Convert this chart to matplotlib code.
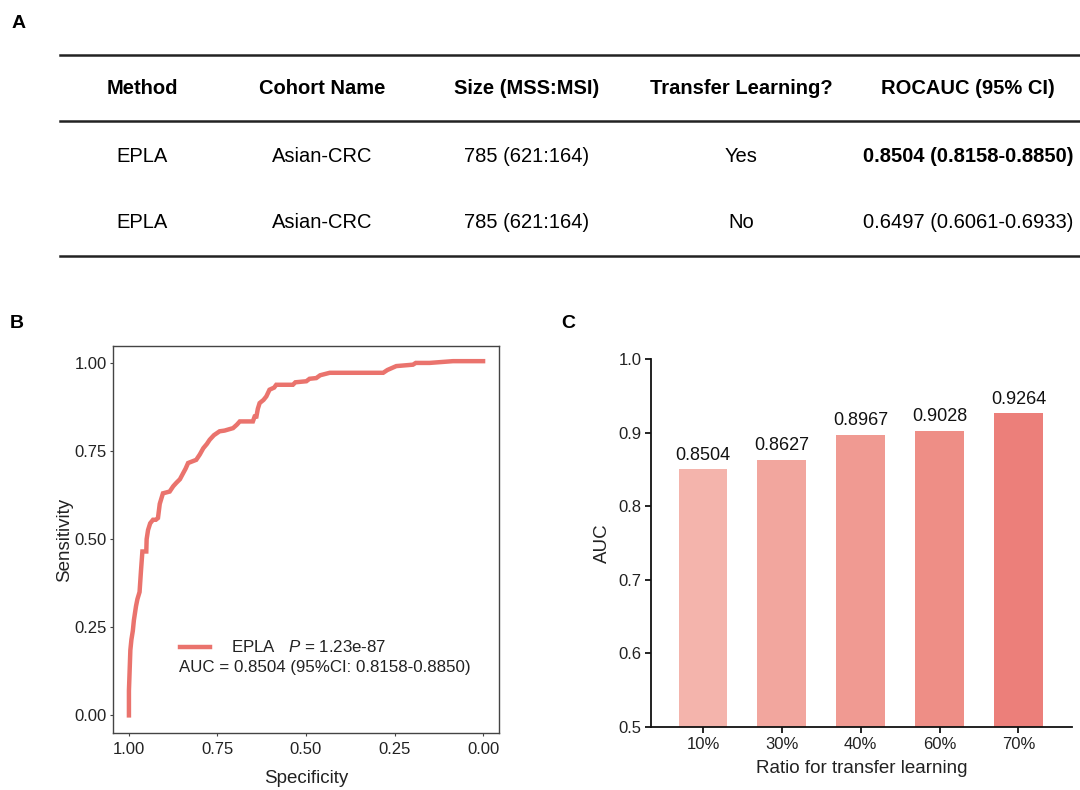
import numpy as np
import matplotlib
matplotlib.use("Agg")
import matplotlib.pyplot as plt
from matplotlib.lines import Line2D

plt.rcParams['font.family'] = ['Liberation Sans', 'DejaVu Sans']
plt.rcParams['mathtext.fontset'] = 'custom'
plt.rcParams['mathtext.rm'] = 'Liberation Sans'
plt.rcParams['mathtext.it'] = 'Liberation Sans:italic'

# table (panel A)
tableHeader = ['Method', 'Cohort Name', 'Size (MSS:MSI)', 'Transfer Learning?', 'ROCAUC (95% CI)']
tableRows = [
    ['EPLA', 'Asian-CRC', '785 (621:164)', 'Yes', '0.8504 (0.8158-0.8850)'],
    ['EPLA', 'Asian-CRC', '785 (621:164)', 'No', '0.6497 (0.6061-0.6933)'],
]
boldCells = [(0, 4)]

# ROC curve (panel B)
specificity = [1.000, 1.000, 0.996, 0.993, 0.989, 0.986, 0.980, 0.976, 0.970, 0.968,
               0.966, 0.962, 0.951, 0.950, 0.946, 0.940, 0.932, 0.924, 0.918, 0.913,
               0.904, 0.885, 0.875, 0.866, 0.856, 0.847, 0.840, 0.833, 0.810, 0.800,
               0.790, 0.780, 0.772, 0.760, 0.744, 0.730, 0.706, 0.695, 0.687, 0.650,
               0.645, 0.640, 0.636, 0.631, 0.620, 0.612, 0.603, 0.590, 0.584, 0.537,
               0.530, 0.499, 0.490, 0.471, 0.460, 0.433, 0.282, 0.270, 0.245, 0.198,
               0.190, 0.151, 0.085, 0.000]
sensitivity = [0.000, 0.070, 0.185, 0.215, 0.240, 0.270, 0.310, 0.330, 0.350, 0.380,
               0.410, 0.465, 0.465, 0.500, 0.526, 0.545, 0.555, 0.555, 0.560, 0.600,
               0.630, 0.635, 0.650, 0.660, 0.670, 0.687, 0.700, 0.716, 0.725, 0.740,
               0.758, 0.770, 0.782, 0.795, 0.806, 0.808, 0.815, 0.825, 0.834, 0.834,
               0.848, 0.848, 0.870, 0.886, 0.895, 0.905, 0.924, 0.930, 0.938, 0.938,
               0.945, 0.948, 0.955, 0.957, 0.965, 0.972, 0.972, 0.980, 0.991, 0.995,
               1.000, 1.000, 1.005, 1.005]
rocLabel = 'EPLA   $P$ = 1.23e-87'
aucLabel = 'AUC = 0.8504 (95%CI: 0.8158-0.8850)'

# bar chart (panel C)
ratios = ['10%', '30%', '40%', '60%', '70%']
aucValues = [0.8504, 0.8627, 0.8967, 0.9028, 0.9264]
barColors = ['#F4B4AC', '#F2A69E', '#F09A92', '#EE8E86', '#EC7F7A']

W, H = 1080, 790
fig = plt.figure(figsize=(W / 100, H / 100), dpi=100)

# ---- panel A: table drawn in a pixel-coordinate overlay
axA = fig.add_axes([0, 0, 1, 1])
axA.set_xlim(0, W)
axA.set_ylim(H, 0)
axA.axis('off')
colX = [142, 322, 527, 741, 968]
rowY = [88, 156, 222]
for yy in [55, 121, 256]:
    axA.add_line(Line2D([60, W], [yy, yy], color='#222222', lw=1.8))
for x, name in zip(colX, tableHeader):
    axA.text(x, rowY[0], name, ha='center', va='center', fontsize=14.5, fontweight='bold')
for r, row in enumerate(tableRows):
    for c, cell in enumerate(row):
        fw = 'bold' if (r, c) in boldCells else 'normal'
        axA.text(colX[c], rowY[r + 1], cell, ha='center', va='center', fontsize=14.5, fontweight=fw)
axA.text(19, 23, 'A', ha='center', va='center', fontsize=14, fontweight='bold')
axA.text(17, 323, 'B', ha='center', va='center', fontsize=14, fontweight='bold')
axA.text(568, 323, 'C', ha='center', va='center', fontsize=14, fontweight='bold')

# ---- panel B: ROC curve
axB = fig.add_axes([113 / W, 1 - 733 / H, 386 / W, 387 / H])
rocColor = '#EA736D'
axB.plot(specificity, sensitivity, color=rocColor, lw=3.2, solid_joinstyle='miter')
axB.set_xlim(1.045, -0.045)
axB.set_ylim(-0.05, 1.048)
axB.set_xticks([1.0, 0.75, 0.5, 0.25, 0.0])
axB.set_xticklabels(['1.00', '0.75', '0.50', '0.25', '0.00'])
axB.set_yticks([0.0, 0.25, 0.5, 0.75, 1.0])
axB.set_yticklabels(['0.00', '0.25', '0.50', '0.75', '1.00'])
for s in axB.spines.values():
    s.set_color('#444444')
    s.set_linewidth(1.0)
axB.tick_params(length=2.5, width=0.8, color='#444444', labelsize=12, labelcolor='#222222', pad=2)
axB.tick_params(axis='x', pad=4)
axB.set_xlabel('Specificity', fontsize=13.5, color='#222222', labelpad=9)
axB.set_ylabel('Sensitivity', fontsize=13.5, color='#222222', labelpad=1)
axB.add_line(Line2D([0.174, 0.251], [0.222, 0.222], transform=axB.transAxes, color=rocColor, lw=3.2))
axB.text(0.305, 0.222, rocLabel, transform=axB.transAxes, ha='left', va='center', fontsize=12.2, color='#222222')
axB.text(0.172, 0.168, aucLabel, transform=axB.transAxes, ha='left', va='center', fontsize=12.2, color='#222222')

# ---- panel C: AUC by transfer ratio
axC = fig.add_axes([651 / W, 1 - 727 / H, 421 / W, 368 / H])
xpos = np.arange(len(ratios))
bars = axC.bar(xpos, aucValues, width=0.62, color=barColors)
for b, v in zip(bars, aucValues):
    axC.annotate('%.4f' % v, (b.get_x() + b.get_width() / 2, v), xytext=(0, 4),
                 textcoords='offset points', ha='center', va='bottom', fontsize=13, color='#111111')
axC.set_xlim(-0.66, 4.68)
axC.set_ylim(0.5, 1.0)
axC.set_yticks([0.5, 0.6, 0.7, 0.8, 0.9, 1.0])
axC.set_yticklabels(['0.5', '0.6', '0.7', '0.8', '0.9', '1.0'])
axC.set_xticks(xpos)
axC.set_xticklabels(ratios)
axC.spines['top'].set_visible(False)
axC.spines['right'].set_visible(False)
for s in ['left', 'bottom']:
    axC.spines[s].set_linewidth(1.3)
    axC.spines[s].set_color('#111111')
axC.tick_params(length=4, width=1.2, labelsize=12, labelcolor='#222222', pad=3)
axC.set_xlabel('Ratio for transfer learning', fontsize=13.5, color='#222222', labelpad=6)
axC.set_ylabel('AUC', fontsize=13.5, color='#222222', labelpad=5)

fig.savefig('out.png', dpi=100)
